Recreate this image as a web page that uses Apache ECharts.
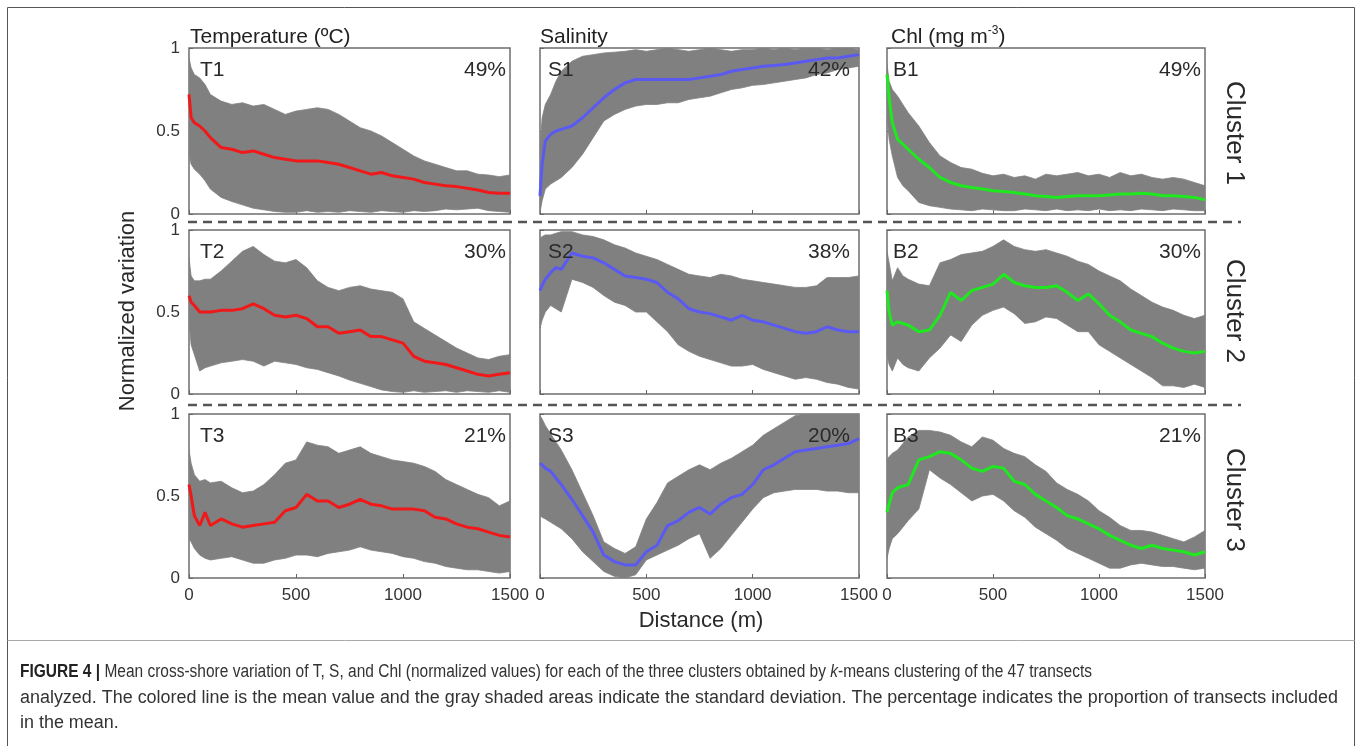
<!DOCTYPE html>
<html><head><meta charset="utf-8">
<script src="https://cdn.jsdelivr.net/npm/echarts@6/dist/echarts.min.js"></script>
<style>html,body{margin:0;padding:0;background:#fff}#c{width:1359px;height:746px}</style>
</head><body><div id="c"></div>
<script>
// ---------- data ----------
const distance = [0,10,25,50,75,100,150,200,250,300,350,400,450,500,550,600,650,700,750,800,850,900,950,1000,1050,1100,1150,1200,1250,1300,1350,1400,1450,1500];
const xTicks = [0, 500, 1000, 1500];
const xTickLabels = ['0','500','1000','1500'];
const yTickLabels = ['0','0.5','1'];
const columnTitles = ['Temperature (ºC)', 'Salinity', 'Chl (mg m-3)'];
const clusterNames = ['Cluster 1', 'Cluster 2', 'Cluster 3'];
const panelLabels = ['T1','S1','B1','T2','S2','B2','T3','S3','B3'];
const panelPercents = ['49%','42%','49%','30%','38%','30%','21%','20%','21%'];

const T1_mean  = [0.72,0.58,0.55,0.53,0.50,0.46,0.40,0.39,0.37,0.38,0.36,0.34,0.33,0.32,0.32,0.32,0.31,0.30,0.28,0.26,0.24,0.25,0.23,0.22,0.21,0.19,0.18,0.17,0.165,0.155,0.145,0.13,0.125,0.125];
const T1_upper = [0.94,0.88,0.84,0.82,0.78,0.72,0.68,0.66,0.67,0.65,0.66,0.63,0.60,0.62,0.63,0.64,0.63,0.60,0.56,0.52,0.50,0.47,0.43,0.39,0.35,0.32,0.30,0.28,0.26,0.26,0.24,0.235,0.225,0.235];
const T1_lower = [0.36,0.30,0.27,0.24,0.20,0.15,0.10,0.075,0.055,0.035,0.025,0.015,0.01,0.01,0.02,0.01,0.015,0.01,0.02,0.015,0.01,0.02,0.015,0.01,0.02,0.015,0.02,0.03,0.025,0.03,0.035,0.02,0.015,0.01];

const S1_mean  = [0.11,0.30,0.44,0.48,0.50,0.51,0.53,0.58,0.64,0.70,0.75,0.79,0.81,0.81,0.81,0.81,0.81,0.81,0.82,0.83,0.84,0.86,0.87,0.88,0.89,0.895,0.90,0.91,0.92,0.93,0.94,0.94,0.95,0.96];
const S1_upper = [0.40,0.58,0.66,0.72,0.80,0.86,0.92,0.95,0.96,0.97,0.975,0.98,0.99,0.98,0.99,1.0,0.99,0.98,0.99,1.0,0.99,0.98,0.99,0.99,1.0,0.99,1.0,0.99,1.0,1.0,0.99,1.0,1.0,0.99];
const S1_lower = [0.01,0.08,0.15,0.18,0.20,0.22,0.28,0.36,0.46,0.56,0.60,0.63,0.65,0.66,0.66,0.67,0.67,0.69,0.70,0.71,0.73,0.75,0.76,0.775,0.78,0.79,0.80,0.81,0.82,0.84,0.85,0.87,0.88,0.89];

const B1_mean  = [0.84,0.70,0.55,0.45,0.42,0.39,0.33,0.28,0.22,0.19,0.17,0.16,0.15,0.14,0.135,0.13,0.12,0.11,0.105,0.10,0.105,0.11,0.11,0.11,0.115,0.12,0.12,0.125,0.12,0.11,0.11,0.105,0.10,0.085];
const B1_upper = [0.90,0.80,0.75,0.71,0.66,0.61,0.53,0.43,0.35,0.31,0.28,0.27,0.245,0.23,0.24,0.22,0.23,0.21,0.24,0.23,0.24,0.25,0.23,0.24,0.22,0.25,0.23,0.24,0.22,0.21,0.22,0.21,0.19,0.17];
const B1_lower = [0.59,0.45,0.35,0.22,0.17,0.14,0.07,0.05,0.04,0.03,0.025,0.02,0.03,0.025,0.02,0.02,0.03,0.025,0.02,0.03,0.02,0.025,0.02,0.03,0.02,0.025,0.02,0.03,0.025,0.02,0.03,0.025,0.02,0.02];

const T2_mean  = [0.60,0.56,0.54,0.50,0.50,0.50,0.51,0.51,0.52,0.55,0.52,0.48,0.47,0.48,0.46,0.41,0.41,0.37,0.38,0.39,0.35,0.35,0.33,0.31,0.23,0.20,0.19,0.18,0.16,0.14,0.12,0.11,0.12,0.13];
const T2_upper = [0.83,0.72,0.69,0.69,0.70,0.70,0.75,0.81,0.87,0.90,0.85,0.81,0.80,0.82,0.77,0.69,0.65,0.63,0.65,0.66,0.64,0.63,0.62,0.58,0.44,0.40,0.36,0.32,0.28,0.25,0.22,0.21,0.23,0.24];
const T2_lower = [0.45,0.30,0.24,0.14,0.16,0.17,0.19,0.20,0.21,0.20,0.17,0.20,0.19,0.18,0.16,0.15,0.13,0.11,0.085,0.065,0.045,0.025,0.015,0.01,0.02,0.01,0.015,0.02,0.01,0.02,0.015,0.01,0.02,0.01];

const S2_mean  = [0.63,0.66,0.70,0.74,0.77,0.76,0.86,0.84,0.83,0.80,0.76,0.72,0.71,0.70,0.68,0.62,0.58,0.52,0.50,0.49,0.47,0.45,0.48,0.45,0.44,0.42,0.40,0.38,0.37,0.38,0.41,0.39,0.38,0.38];
const S2_upper = [0.95,0.96,0.97,0.97,0.98,0.99,0.99,0.97,0.96,0.94,0.91,0.89,0.86,0.84,0.82,0.79,0.76,0.73,0.72,0.71,0.73,0.72,0.70,0.69,0.68,0.67,0.66,0.65,0.65,0.66,0.71,0.71,0.71,0.72];
const S2_lower = [0.40,0.45,0.50,0.54,0.52,0.50,0.70,0.68,0.65,0.60,0.56,0.54,0.50,0.50,0.44,0.38,0.30,0.26,0.23,0.21,0.19,0.17,0.17,0.18,0.15,0.13,0.11,0.09,0.10,0.09,0.07,0.06,0.04,0.03];

const B2_mean  = [0.63,0.50,0.42,0.44,0.43,0.42,0.38,0.39,0.48,0.62,0.57,0.63,0.65,0.67,0.73,0.68,0.66,0.65,0.65,0.66,0.62,0.57,0.61,0.55,0.48,0.44,0.39,0.37,0.35,0.31,0.28,0.26,0.25,0.26];
const B2_upper = [0.87,0.80,0.69,0.77,0.72,0.70,0.67,0.66,0.80,0.82,0.85,0.86,0.87,0.90,0.94,0.90,0.88,0.87,0.88,0.86,0.84,0.81,0.79,0.75,0.72,0.69,0.64,0.60,0.56,0.53,0.51,0.48,0.46,0.48];
const B2_lower = [0.24,0.18,0.14,0.22,0.18,0.16,0.14,0.22,0.28,0.36,0.32,0.42,0.48,0.51,0.53,0.49,0.43,0.44,0.47,0.46,0.42,0.38,0.38,0.30,0.26,0.22,0.18,0.14,0.10,0.05,0.05,0.04,0.06,0.04];

const T3_mean  = [0.57,0.50,0.38,0.32,0.40,0.32,0.36,0.33,0.31,0.32,0.33,0.34,0.41,0.43,0.51,0.47,0.47,0.43,0.45,0.48,0.45,0.44,0.42,0.42,0.42,0.41,0.37,0.36,0.33,0.31,0.30,0.28,0.26,0.25];
const T3_upper = [0.78,0.70,0.63,0.59,0.60,0.58,0.59,0.55,0.52,0.53,0.57,0.63,0.70,0.72,0.83,0.81,0.80,0.76,0.78,0.80,0.76,0.74,0.72,0.71,0.70,0.68,0.65,0.60,0.57,0.54,0.51,0.49,0.44,0.47];
const T3_lower = [0.24,0.22,0.18,0.14,0.12,0.11,0.12,0.13,0.11,0.09,0.09,0.11,0.12,0.14,0.14,0.13,0.15,0.16,0.17,0.19,0.17,0.16,0.15,0.13,0.12,0.10,0.09,0.07,0.06,0.05,0.05,0.04,0.03,0.04];

const S3_mean  = [0.70,0.69,0.67,0.65,0.61,0.57,0.48,0.38,0.28,0.14,0.10,0.08,0.08,0.16,0.20,0.32,0.35,0.40,0.43,0.39,0.45,0.49,0.51,0.57,0.66,0.69,0.73,0.77,0.78,0.79,0.80,0.81,0.82,0.85];
const S3_upper = [0.99,0.97,0.93,0.88,0.83,0.78,0.66,0.52,0.38,0.22,0.18,0.15,0.19,0.36,0.46,0.58,0.62,0.66,0.69,0.66,0.70,0.73,0.77,0.81,0.87,0.91,0.95,0.99,1.0,1.0,1.0,1.0,1.0,1.0];
const S3_lower = [0.38,0.37,0.36,0.34,0.32,0.30,0.24,0.16,0.10,0.04,0.01,0.0,0.02,0.11,0.14,0.17,0.20,0.24,0.27,0.12,0.18,0.26,0.34,0.42,0.49,0.52,0.53,0.54,0.54,0.54,0.53,0.53,0.52,0.52];

const B3_mean  = [0.40,0.45,0.52,0.55,0.56,0.57,0.72,0.74,0.77,0.76,0.72,0.67,0.65,0.68,0.67,0.59,0.57,0.51,0.47,0.43,0.38,0.36,0.33,0.30,0.26,0.23,0.20,0.18,0.20,0.18,0.17,0.16,0.14,0.16];
const B3_upper = [0.72,0.74,0.76,0.78,0.82,0.86,0.90,0.90,0.89,0.87,0.83,0.80,0.86,0.84,0.79,0.76,0.74,0.69,0.65,0.58,0.54,0.51,0.47,0.41,0.37,0.32,0.29,0.29,0.28,0.26,0.24,0.22,0.25,0.29];
const B3_lower = [0.12,0.18,0.24,0.27,0.31,0.35,0.42,0.66,0.61,0.57,0.52,0.47,0.50,0.51,0.47,0.41,0.37,0.31,0.27,0.23,0.18,0.15,0.12,0.09,0.06,0.06,0.08,0.09,0.08,0.07,0.07,0.06,0.05,0.06];

const captionLine1 = ['FIGURE 4 |', ' Mean cross-shore variation of T, S, and Chl (normalized values) for each of the three clusters obtained by ', 'k', '-means clustering of the 47 transects'];
const captionLine2 = 'analyzed. The colored line is the mean value and the gray shaded areas indicate the standard deviation. The percentage indicates the proportion of transects included';
const captionLine3 = 'in the mean.';

// ---------- layout ----------
const FONT = '"Liberation Sans", Arial, sans-serif';
const colLeft = [189, 540, 887];
const colWidth = [321, 319, 318];
const rowTop = [48, 230, 414];
const rowHeight = [166, 164, 164];
const lineColors = ['#f01818', '#5a5af2', '#1ee81e'];
const bandColor = '#808080';

const panels = [
  [T1_mean, T1_upper, T1_lower], [S1_mean, S1_upper, S1_lower], [B1_mean, B1_upper, B1_lower],
  [T2_mean, T2_upper, T2_lower], [S2_mean, S2_upper, S2_lower], [B2_mean, B2_upper, B2_lower],
  [T3_mean, T3_upper, T3_lower], [S3_mean, S3_upper, S3_lower], [B3_mean, B3_upper, B3_lower]
];

const grids = [], xAxes = [], yAxes = [], series = [], graphics = [];
panels.forEach((p, i) => {
  const r = Math.floor(i / 3), c = i % 3;
  grids.push({left: colLeft[c], top: rowTop[r], width: colWidth[c], height: rowHeight[r],
    show: true, borderColor: '#6e6e6e', borderWidth: 1.5, backgroundColor: '#fff'});
  xAxes.push({gridIndex: i, type: 'value', min: xTicks[0], max: xTicks[3], interval: xTicks[1] - xTicks[0],
    axisLine: {show: false},
    axisTick: {show: true, inside: true, length: 4, lineStyle: {color: '#666'}},
    axisLabel: {show: r === 2, fontSize: 17, color: '#333', margin: 9, fontFamily: FONT, showMinLabel: true, showMaxLabel: true,
      formatter: v => xTickLabels[xTicks.indexOf(v)] || ''},
    splitLine: {show: false}});
  yAxes.push({gridIndex: i, type: 'value', min: 0, max: 1, interval: 0.5,
    axisLine: {show: false},
    axisTick: {show: true, inside: true, length: 4, lineStyle: {color: '#666'}},
    axisLabel: {show: c === 0, fontSize: 17, color: '#333', margin: 9, fontFamily: FONT,
      formatter: v => yTickLabels[Math.round(v * 2)]},
    splitLine: {show: false}});
  const [mean, upper, lower] = p;
  const bandData = distance.map((d, k) => [d, lower[k], upper[k]]);
  series.push({type: 'custom', xAxisIndex: i, yAxisIndex: i, silent: true, clip: true,
    data: [[distance[0], lower[0]]],
    renderItem: (params, api) => {
      const pts = [];
      bandData.forEach(b => pts.push(api.coord([b[0], b[2]])));
      for (let k = bandData.length - 1; k >= 0; k--) pts.push(api.coord([bandData[k][0], bandData[k][1]]));
      return {type: 'polygon', shape: {points: pts}, style: {fill: bandColor, stroke: bandColor, lineWidth: 0.8}};
    }});
  series.push({type: 'line', xAxisIndex: i, yAxisIndex: i, data: distance.map((d, k) => [d, mean[k]]),
    symbol: 'none', silent: true, z: 5, lineStyle: {color: lineColors[c], width: 3}});

  const labOff = [11, 8, 6][c], pctOff = [4, 9, 4][c];
  graphics.push({type: 'text', z: 100, x: colLeft[c] + labOff, y: rowTop[r] + 22,
    style: {text: panelLabels[i], fill: '#2a2a2a', font: '21px ' + FONT, textAlign: 'left', textVerticalAlign: 'middle'}});
  graphics.push({type: 'text', z: 100, x: colLeft[c] + colWidth[c] - pctOff, y: rowTop[r] + 22,
    style: {text: panelPercents[i], fill: '#2a2a2a', font: '21px ' + FONT, textAlign: 'right', textVerticalAlign: 'middle'}});
});

// column titles
graphics.push({type: 'text', z: 100, x: 190, y: 37, style: {text: columnTitles[0], fill: '#222', font: '21px ' + FONT, textAlign: 'left', textVerticalAlign: 'middle'}});
graphics.push({type: 'text', z: 100, x: 540, y: 37, style: {text: columnTitles[1], fill: '#222', font: '21px ' + FONT, textAlign: 'left', textVerticalAlign: 'middle'}});
const chlParts = columnTitles[2].split(' m-3');
graphics.push({type: 'text', z: 100, x: 891, y: 37, style: {
  text: '{n|' + chlParts[0] + ' m}{s|-3}{n|)}',
  rich: {n: {fontSize: 21, fontFamily: FONT, fill: '#222', color: '#222', lineHeight: 24},
         s: {fontSize: 12, fontFamily: FONT, fill: '#222', color: '#222', verticalAlign: 'top', lineHeight: 24, padding: [0, 0, 10, 0]}},
  textAlign: 'left', textVerticalAlign: 'middle'}});

// cluster labels
const clusterY = [133, 311, 500];
clusterNames.forEach((n, k) => graphics.push({type: 'text', z: 100, x: 1234, y: clusterY[k], rotation: -Math.PI / 2,
  style: {text: n, fill: '#2a2a2a', font: '26px ' + FONT, textAlign: 'center', textVerticalAlign: 'middle'}}));

// axis names
graphics.push({type: 'text', z: 100, x: 128, y: 311, rotation: Math.PI / 2,
  style: {text: 'Normalized variation', fill: '#2a2a2a', font: '22px ' + FONT, textAlign: 'center', textVerticalAlign: 'middle'}});
graphics.push({type: 'text', z: 100, x: 701, y: 621,
  style: {text: 'Distance (m)', fill: '#2a2a2a', font: '22px ' + FONT, textAlign: 'center', textVerticalAlign: 'middle'}});

// dashed separators
[222, 405].forEach(y => graphics.push({type: 'line', z: 50, shape: {x1: 188, y1: y, x2: 1241, y2: y},
  style: {stroke: '#555', lineWidth: 2.5, lineDash: [9, 6]}}));

// frame
graphics.push({type: 'rect', z: 1, shape: {x: 7.5, y: 7.5, width: 1347, height: 760},
  style: {fill: 'none', stroke: '#555', lineWidth: 1}});
graphics.push({type: 'line', z: 1, shape: {x1: 7.5, y1: 640.5, x2: 1354.5, y2: 640.5},
  style: {stroke: '#aaa', lineWidth: 1}});

// caption (measured so each line spans the same width as in the reference)
const cv = document.createElement('canvas').getContext('2d');
function w(txt, font) { cv.font = font; return cv.measureText(txt).width; }
const CF = '"Liberation Sans", Arial, sans-serif';
const capSize = 18;
const reg = capSize + 'px ' + CF, bold = 'bold ' + capSize + 'px ' + CF, ital = 'italic ' + capSize + 'px ' + CF;
const w1 = w(captionLine1[0], bold) + w(captionLine1[1], reg) + w(captionLine1[2], ital) + w(captionLine1[3], reg);
const w2 = w(captionLine2, reg);
const sc1 = 1072 / w1, sc2 = 1318 / w2;
const capRich = {
  b: {fontWeight: 'bold', fontSize: capSize, fontFamily: CF, fill: '#222', color: '#222'},
  r: {fontSize: capSize, fontFamily: CF, fill: '#333', color: '#333'},
  i: {fontStyle: 'italic', fontSize: capSize, fontFamily: CF, fill: '#333', color: '#333'}
};
graphics.push({type: 'text', z: 100, x: 20, y: 672, scaleX: sc1, style: {
  text: '{b|' + captionLine1[0] + '}{r|' + captionLine1[1] + '}{i|' + captionLine1[2] + '}{r|' + captionLine1[3] + '}',
  rich: capRich, textAlign: 'left', textVerticalAlign: 'middle'}});
graphics.push({type: 'text', z: 100, x: 20, y: 698, scaleX: sc2, style: {
  text: captionLine2, fill: '#333', font: reg, textAlign: 'left', textVerticalAlign: 'middle'}});
graphics.push({type: 'text', z: 100, x: 20, y: 723, scaleX: sc2, style: {
  text: captionLine3, fill: '#333', font: reg, textAlign: 'left', textVerticalAlign: 'middle'}});

const chart = echarts.init(document.getElementById('c'), null, {renderer: 'canvas'});
chart.setOption({
  animation: false,
  backgroundColor: '#fff',
  grid: grids, xAxis: xAxes, yAxis: yAxes, series: series,
  graphic: {elements: graphics}
});
</script></body></html>
